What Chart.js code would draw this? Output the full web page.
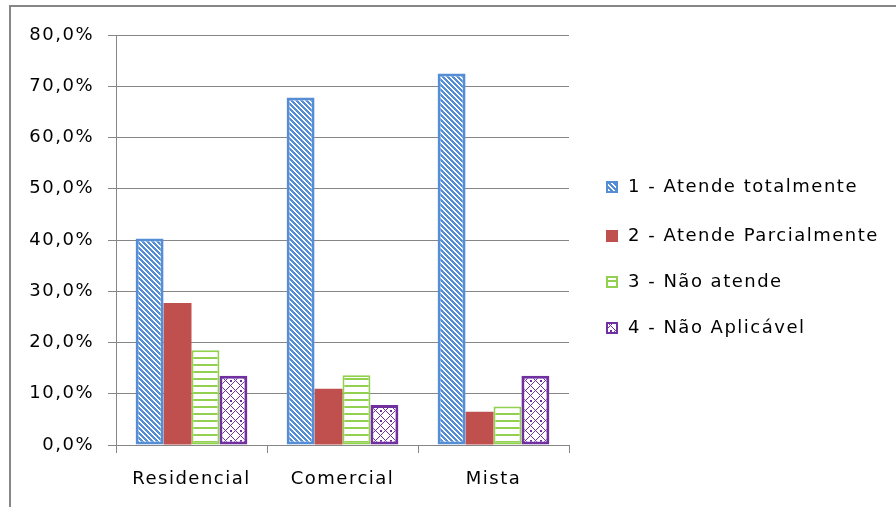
<!DOCTYPE html>
<html lang="pt">
<head>
<meta charset="UTF-8">
<title>Atendimento por tipo de uso</title>
<script src="https://cdn.jsdelivr.net/npm/chart.js@4.4.1/dist/chart.umd.min.js"></script>
<style>
  html, body { margin: 0; padding: 0; background: #fff; }
  #wrap { width: 896px; height: 507px; }
</style>
</head>
<body>
<div id="wrap"><canvas id="grafico"></canvas></div>
<script>
// categorias e valores (%)
const categorias = ['Residencial', 'Comercial', 'Mista'];
const series = ['1 - Atende totalmente', '2 - Atende Parcialmente', '3 - Não atende', '4 - Não Aplicável'];
const atendeTotal = [40.3, 67.8, 72.5];
const atendeParcial = [27.7, 11.0, 6.5];
const naoAtende = [18.5, 13.6, 7.5];
const naoAplicavel = [13.5, 7.8, 13.5];
const yTicks = [0, 10, 20, 30, 40, 50, 60, 70, 80];

const FONTE = '"DejaVu Sans", sans-serif';
const CINZA = '#868686';

// hachuras
function tile(w, h, cor, fn) {
  const c = document.createElement('canvas');
  c.width = w; c.height = h;
  const g = c.getContext('2d');
  g.fillStyle = '#fff';
  g.fillRect(0, 0, w, h);
  g.fillStyle = cor;
  for (let y = 0; y < h; y++)
    for (let x = 0; x < w; x++)
      if (fn(x, y)) g.fillRect(x, y, 1, 1);
  return g.createPattern(c, 'repeat');
}

const azul = '#558ED5', vermelho = '#C0504D', verde = '#92D050', roxo = '#7030A0';
const padAzul = tile(5, 5, azul, (x, y) => ((x - y + 10) % 5) < 3);
const padVerde = tile(4, 7, verde, (x, y) => y < 2);
const padRoxo = tile(10, 10, roxo, (x, y) =>
  (x + y) % 10 === 5 || (x - y + 10) % 10 === 5 || (x < 2 && y < 2));

const datasets = [
  { label: series[0], data: atendeTotal, backgroundColor: padAzul, borderColor: azul, borderWidth: 3 },
  { label: series[1], data: atendeParcial, backgroundColor: vermelho, borderColor: vermelho, borderWidth: 0 },
  { label: series[2], data: naoAtende, backgroundColor: padVerde, borderColor: verde, borderWidth: 2 },
  { label: series[3], data: naoAplicavel, backgroundColor: padRoxo, borderColor: roxo, borderWidth: 3 }
];

// moldura do gráfico + espaçamento do texto
const moldura = {
  id: 'moldura',
  beforeDraw(chart) {
    const ctx = chart.ctx;
    ctx.letterSpacing = '1.5px';
    ctx.save();
    ctx.strokeStyle = CINZA;
    ctx.lineWidth = 2;
    ctx.strokeRect(10, 6, 900, 520);
    ctx.restore();
  }
};

// legenda à direita
const legenda = {
  id: 'legenda',
  afterDraw(chart) {
    const ctx = chart.ctx;
    const ys = [187, 236, 282, 328];
    ctx.save();
    ctx.font = '18px ' + FONTE;
    ctx.textBaseline = 'middle';
    chart.data.datasets.forEach((ds, i) => {
      const y = ys[i];
      ctx.fillStyle = ds.backgroundColor;
      ctx.fillRect(606, y - 6, 12, 12);
      if (ds.borderWidth) {
        ctx.strokeStyle = ds.borderColor;
        ctx.lineWidth = 2;
        ctx.strokeRect(607, y - 5, 10, 10);
      }
      ctx.fillStyle = '#000';
      ctx.fillText(ds.label, 628, y);
    });
    ctx.restore();
  }
};

new Chart(document.getElementById('grafico'), {
  type: 'bar',
  data: { labels: categorias, datasets },
  options: {
    responsive: true,
    maintainAspectRatio: false,
    animation: false,
    devicePixelRatio: 1,
    layout: { padding: { left: 10, right: 327, top: 35, bottom: 10 } },
    datasets: { bar: { categoryPercentage: 0.74, barPercentage: 1, borderSkipped: false } },
    plugins: { legend: { display: false }, tooltip: { enabled: false } },
    scales: {
      x: {
        afterFit(s) { s.height = 52; },
        grid: { drawOnChartArea: false, drawTicks: true, tickLength: 8, color: CINZA, offset: true },
        border: { color: CINZA },
        ticks: { color: '#000', font: { family: FONTE, size: 18 }, padding: 16 }
      },
      y: {
        min: 0, max: 80,
        afterFit(s) { s.width = 106; },
        afterBuildTicks(s) { s.ticks = yTicks.map(v => ({ value: v })); },
        grid: { color: CINZA, tickLength: 8 },
        border: { color: CINZA },
        ticks: {
          color: '#000', font: { family: FONTE, size: 18 }, padding: 14,
          callback: v => v.toFixed(1).replace('.', ',') + '%'
        }
      }
    }
  },
  plugins: [moldura, legenda]
});
</script>
</body>
</html>
